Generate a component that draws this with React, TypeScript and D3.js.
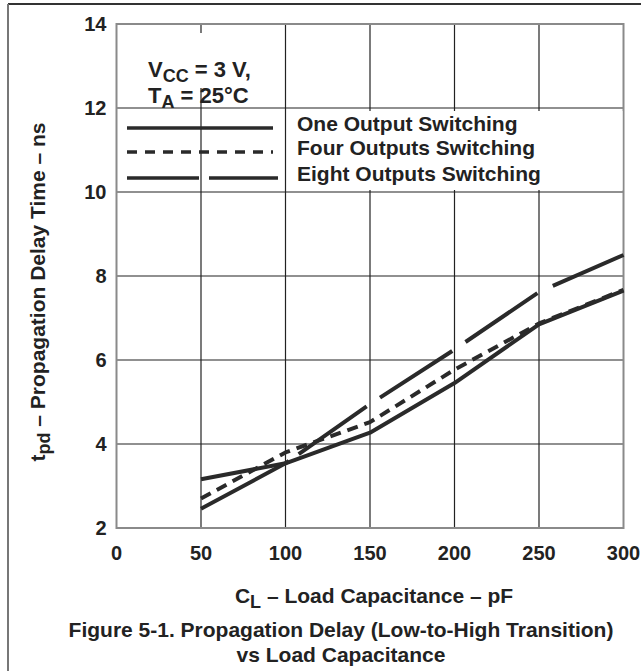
import React from "react";
import * as d3 from "d3";

const capacitance = [50, 100, 150, 200, 250, 300];
const oneOutput = [3.16, 3.54, 4.27, 5.45, 6.85, 7.65];
const fourOutputs = [2.7, 3.8, 4.52, 5.77, 6.87, 7.67];
const eightOutputs = [2.46, 3.54, 4.95, 6.25, 7.62, 8.5];
const xTicks = [0, 50, 100, 150, 200, 250, 300];
const yTicks = [2, 4, 6, 8, 10, 12, 14];
const legendLabels = ["One Output Switching", "Four Outputs Switching", "Eight Outputs Switching"];

const W = 641, H = 671;
const L = 116.5, R = 623.5, T = 24, B = 528;
const FONT = "'Liberation Sans', Arial, Helvetica, sans-serif";
const INK = "#2a2a2a";

export default function App() {
  const x = d3.scaleLinear().domain([0, 300]).range([L, R]);
  const y = d3.scaleLinear().domain([2, 14]).range([B, T]);
  const line = d3.line<number>().x((_, i) => x(capacitance[i])).y((d) => y(d));

  const styles = [
    { dash: undefined, width: 4 },
    { dash: "11,7", width: 4 },
    { dash: "100,12,83,16,86,16,87,17,300", width: 4 },
  ];
  const legendDash = [undefined, "10,8", "72,10,80"];
  const series = [oneOutput, fourOutputs, eightOutputs];
  const legendY = [128, 152, 178];

  return (
    <svg width={W} height={H} style={{ position: "absolute", left: 0, top: 0, background: "#fff" }}>
      {/* outer frame */}
      <line x1={8} y1={4} x2={W} y2={4} stroke="#333" strokeWidth={2} />
      <line x1={8} y1={4} x2={8} y2={H} stroke="#777" strokeWidth={2} />

      {/* grid */}
      {xTicks.slice(1, -1).map((t) => (
        <line key={"gx" + t} x1={x(t)} x2={x(t)} y1={T} y2={B} stroke="#222" strokeWidth={1.2} />
      ))}
      {yTicks.slice(1, -1).map((t) => (
        <line key={"gy" + t} x1={L} x2={R} y1={y(t)} y2={y(t)} stroke="#222" strokeWidth={1.2} />
      ))}
      <rect x={L} y={T} width={R - L} height={B - T} fill="none" stroke="#8a8a8a" strokeWidth={2} />

      {/* white boxes behind annotations */}
      <rect x={140} y={33} width={140} height={55} fill="#fff" />
      <rect x={291} y={111} width={R - 292} height={79} fill="#fff" />

      {/* data lines */}
      {series.map((s, i) => (
        <path
          key={"s" + i}
          d={line(s) || ""}
          fill="none"
          stroke={INK}
          strokeWidth={styles[i].width}
          strokeDasharray={styles[i].dash}
          strokeLinejoin="round"
        />
      ))}

      {/* tick labels */}
      <g fontFamily={FONT} fontWeight="bold" fontSize={20} fill="#222">
        {yTicks.map((t) => (
          <text key={"yl" + t} x={L - 10} y={y(t) + 7} textAnchor="end">{t}</text>
        ))}
        {xTicks.map((t) => (
          <text key={"xl" + t} x={x(t)} y={560} textAnchor="middle">{t}</text>
        ))}
      </g>

      {/* conditions */}
      <g fontFamily={FONT} fontWeight="bold" fontSize={22} fill="#222">
        <text x={148} y={77}>
          V<tspan fontSize={18} dy={5}>CC</tspan><tspan dy={-5}> = 3 V,</tspan>
        </text>
        <text x={148} y={103}>
          T<tspan fontSize={18} dy={5}>A</tspan><tspan dy={-5}> = 25°C</tspan>
        </text>
      </g>

      {/* legend */}
      {legendLabels.map((lab, i) => (
        <g key={"lg" + i}>
          <line x1={127} x2={i === 2 ? 278 : 273} y1={legendY[i]} y2={legendY[i]} stroke={INK} strokeWidth={3.5} strokeDasharray={legendDash[i]} />
          <text x={297} y={legendY[i] + 3} fontFamily={FONT} fontWeight="bold" fontSize={21} fill="#222">{lab}</text>
        </g>
      ))}

      {/* axis titles */}
      <g fontFamily={FONT} fontWeight="bold" fontSize={21} fill="#222">
        <text x={374} y={603} textAnchor="middle">
          C<tspan fontSize={18} dy={5}>L</tspan><tspan dy={-5}> – Load Capacitance – pF</tspan>
        </text>
        <text transform={`translate(45, 292) rotate(-90)`} textAnchor="middle">
          t<tspan fontSize={18} dy={5}>pd</tspan><tspan dy={-5}> – Propagation Delay Time – ns</tspan>
        </text>
        <text x={341} y={637} textAnchor="middle">Figure 5-1. Propagation Delay (Low-to-High Transition)</text>
        <text x={341} y={662} textAnchor="middle">vs Load Capacitance</text>
      </g>
    </svg>
  );
}
